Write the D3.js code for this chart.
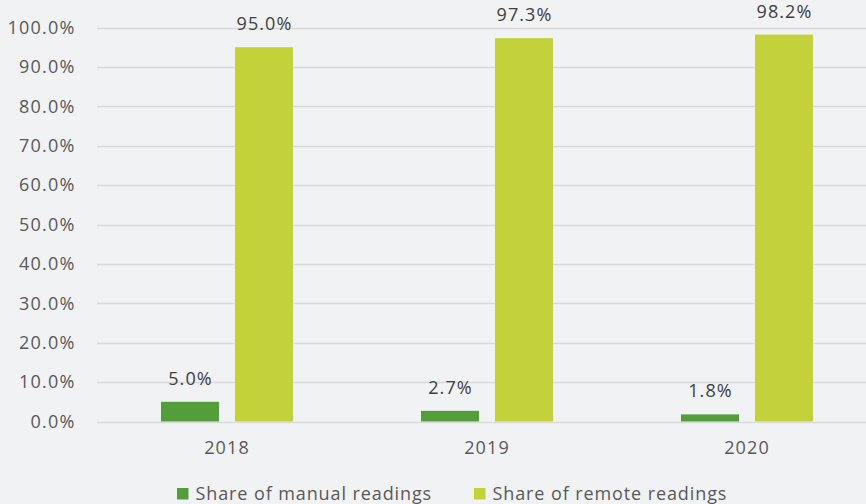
<!DOCTYPE html>
<html>
<head>
<meta charset="utf-8">
<script src="https://cdn.jsdelivr.net/npm/d3@7"></script>
<style>
  html, body { margin: 0; padding: 0; background: #f1f2f4; }
  svg { display: block; font-family: "Open Sans", "Noto Sans", sans-serif; }
</style>
</head>
<body>
<svg id="chart" width="866" height="504"></svg>
<script>
// Meter reading shares by year
const years = ["2018", "2019", "2020"];
const manualShare = [5.0, 2.7, 1.8];
const remoteShare = [95.0, 97.3, 98.2];
const seriesNames = ["Share of manual readings", "Share of remote readings"];
const seriesColors = ["#539e3b", "#c3d13b"];
const yTicks = [0, 10, 20, 30, 40, 50, 60, 70, 80, 90, 100];

const svg = d3.select("#chart");
const W = 866, H = 504;
const plot = { left: 97, right: 877, top: 27.5, bottom: 421.5 };
const fontSize = "18px";

const x0 = d3.scaleBand().domain(years).range([plot.left, plot.right]).paddingInner(0).paddingOuter(0);
const x1 = d3.scaleBand().domain([0, 1]).range([64, 196]).paddingInner(16 / 74).paddingOuter(0);
const y = d3.scaleLinear().domain([0, 100]).range([plot.bottom, plot.top]);

// Horizontal gridlines
svg.append("g")
  .selectAll("line")
  .data(yTicks)
  .join("line")
  .attr("x1", plot.left)
  .attr("x2", W)
  .attr("y1", d => Math.round(y(d)) + 0.5)
  .attr("y2", d => Math.round(y(d)) + 0.5)
  .attr("stroke", "#d9d9d9")
  .attr("stroke-width", 1.3);

// Y axis labels
const yAxis = d3.axisLeft(y).tickValues(yTicks).tickFormat(d => d3.format(".1f")(d) + "%").tickSize(0).tickPadding(0);
const yg = svg.append("g").attr("transform", `translate(75.5,0)`).call(yAxis);
yg.select(".domain").remove();
yg.selectAll("text").attr("fill", "#595959").style("font-size", fontSize)
  .style("letter-spacing", "1.2px").style("font-family", "'Open Sans', sans-serif");

// X axis labels
const xAxis = d3.axisBottom(x0).tickSize(0).tickPadding(0);
const xg = svg.append("g").attr("transform", `translate(0,441)`).call(xAxis);
xg.select(".domain").remove();
xg.selectAll("text").attr("fill", "#595959").style("font-size", fontSize)
  .style("letter-spacing", "1.1px").style("font-family", "'Open Sans', sans-serif");

// Bars and value labels
const rows = years.map((yr, i) => ({ year: yr, values: [manualShare[i], remoteShare[i]] }));
const groups = svg.append("g").selectAll("g")
  .data(rows)
  .join("g")
  .attr("transform", d => `translate(${x0(d.year)},0)`);

groups.selectAll("rect")
  .data(d => d.values.map((v, s) => ({ v, s })))
  .join("rect")
  .attr("x", d => x1(d.s))
  .attr("width", x1.bandwidth())
  .attr("y", d => y(d.v))
  .attr("height", d => y(0) - y(d.v))
  .attr("fill", d => seriesColors[d.s]);

groups.selectAll("text.val")
  .data(d => d.values.map((v, s) => ({ v, s })))
  .join("text")
  .attr("class", "val")
  .attr("x", d => x1(d.s) + x1.bandwidth() / 2 + 0.5)
  .attr("y", d => y(d.v) - 17)
  .attr("text-anchor", "middle")
  .attr("fill", "#404040")
  .style("font-size", fontSize)
  .style("letter-spacing", "1.1px")
  .text(d => d3.format(".1f")(d.v) + "%");

// Legend along the bottom edge
const legendX = [177, 474];
const legend = svg.append("g").selectAll("g")
  .data(seriesNames)
  .join("g")
  .attr("transform", (d, i) => `translate(${legendX[i]},488)`);
legend.append("rect").attr("width", 11.5).attr("height", 11.5).attr("fill", (d, i) => seriesColors[i]);
legend.append("text")
  .attr("x", 18.5)
  .attr("y", 11.5)
  .attr("fill", "#595959")
  .style("font-size", fontSize)
  .style("letter-spacing", "0.9px")
  .text(d => d);
</script>
</body>
</html>
